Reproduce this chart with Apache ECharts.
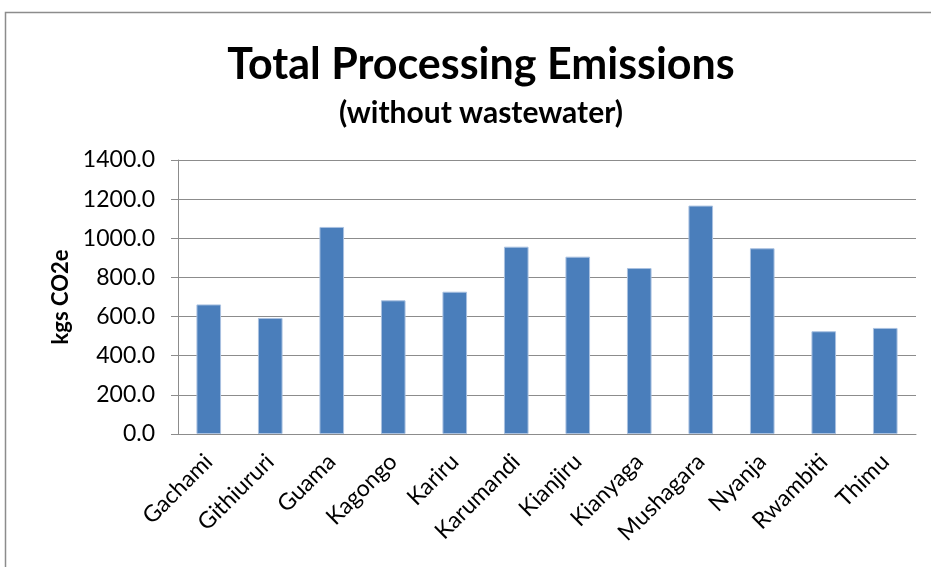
<!DOCTYPE html>
<html>
<head>
<meta charset="utf-8">
<script src="https://cdn.jsdelivr.net/npm/echarts@6/dist/echarts.min.js"></script>
<style>
  html, body { margin: 0; padding: 0; background: #fff; }
  #chart { width: 931px; height: 567px; }
</style>
</head>
<body>
<div id="chart"></div>
<script>
// Processing sites and their total emissions (kg CO2e), wastewater excluded
const sites = ['Gachami', 'Githiururi', 'Guama', 'Kagongo', 'Kariru', 'Karumandi',
               'Kianjiru', 'Kianyaga', 'Mushagara', 'Nyanja', 'Rwambiti', 'Thimu'];
const emissions = [662, 593, 1058, 683, 727, 957, 906, 848, 1167, 949, 525, 542];

const titleText = 'Total Processing Emissions';
const subtitleText = '(without wastewater)';
const yAxisName = 'kgs CO2e';

const FONT = 'Lato, "Open Sans", sans-serif';

const chart = echarts.init(document.getElementById('chart'), null, { renderer: 'canvas' });

chart.setOption({
  animation: false,
  backgroundColor: '#ffffff',
  textStyle: { fontFamily: FONT },
  graphic: [{
    type: 'rect',
    shape: { x: 5.5, y: 12.5, width: 1000, height: 1000 },
    style: { fill: 'none', stroke: '#8c8c8c', lineWidth: 1.5 },
    silent: true
  }],
  title: [{
    text: titleText,
    left: 476,
    textAlign: 'center',
    top: 39,
    textStyle: { fontFamily: FONT, fontSize: 43, fontWeight: 'bold', color: '#000' }
  }, {
    text: subtitleText,
    left: 476,
    textAlign: 'center',
    top: 93,
    textStyle: { fontFamily: FONT, fontSize: 30, fontWeight: 'bold', color: '#000' }
  }],
  grid: { left: 178, right: 15, top: 160, bottom: 133, containLabel: false },
  xAxis: {
    type: 'category',
    data: sites,
    axisLine: { lineStyle: { color: '#8c8c8c', width: 1 } },
    axisTick: { show: false },
    axisLabel: {
      rotate: 45,
      interval: 0,
      margin: 24,
      fontFamily: FONT,
      fontSize: 23,
      color: '#000'
    }
  },
  yAxis: {
    type: 'value',
    min: 0,
    max: 1400,
    interval: 200,
    name: yAxisName,
    nameLocation: 'middle',
    nameGap: 106,
    nameRotate: 90,
    nameTextStyle: { fontFamily: FONT, fontSize: 22, fontWeight: 'bold', color: '#000' },
    axisLine: { show: true, lineStyle: { color: '#8c8c8c', width: 1 } },
    axisTick: { show: true, length: 7, lineStyle: { color: '#8c8c8c' } },
    splitLine: { lineStyle: { color: '#8c8c8c', width: 1 } },
    axisLabel: {
      margin: 23,
      fontFamily: FONT,
      fontSize: 23,
      color: '#000',
      formatter: v => v.toFixed(1)
    }
  },
  series: [{
    type: 'bar',
    data: emissions,
    barWidth: '40%',
    itemStyle: { color: '#4a7ebb', borderColor: '#a9c1e0', borderWidth: 1 }
  }]
});
</script>
</body>
</html>
